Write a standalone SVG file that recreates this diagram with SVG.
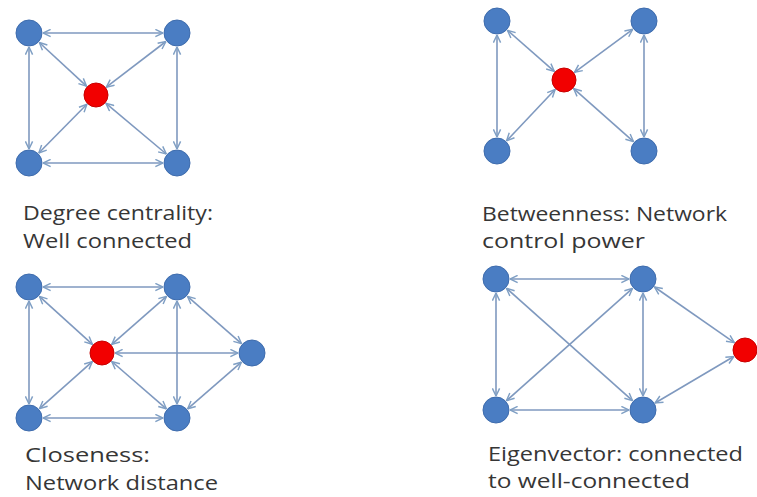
<svg xmlns="http://www.w3.org/2000/svg" width="757" height="497" viewBox="0 0 757 497">
  <style>
    .bg { fill: #ffffff; }
    .node { fill: #4a7dc3; stroke: #3e6cad; stroke-width: 1; }
    .hub { fill: #f20000; stroke: #c80000; stroke-width: 1; }
    .edge { stroke: #7f99bf; stroke-width: 1.6; fill: none; marker-start: url(#tip); marker-end: url(#tip); }
    .cap { font-family: "Open Sans", "Liberation Sans", sans-serif; font-size: 20px; fill: #363636; }
  </style>
  <defs>
    <marker id="tip" viewBox="0 0 10 10" refX="9.5" refY="5" markerWidth="9" markerHeight="9" markerUnits="userSpaceOnUse" orient="auto-start-reverse">
      <path d="M1,1 L9.5,5 L1,9" fill="none" stroke="#7f9fc4" stroke-width="1.6"/>
    </marker>
  </defs>
  <rect class="bg" width="757" height="497"/>

  <g id="connectors">
    <!-- degree centrality -->
    <line class="edge" x1="43" y1="33" x2="163" y2="33"/>
    <line class="edge" x1="29" y1="47" x2="29" y2="149"/>
    <line class="edge" x1="177" y1="47" x2="177" y2="149"/>
    <line class="edge" x1="43" y1="163" x2="163" y2="163"/>
    <line class="edge" x1="39.3" y1="42.5" x2="86.5" y2="86.2"/>
    <line class="edge" x1="165.9" y1="41.5" x2="106.3" y2="87.1"/>
    <line class="edge" x1="38.8" y1="153" x2="86.9" y2="104.3"/>
    <line class="edge" x1="166.3" y1="154" x2="106" y2="103.4"/>
    <!-- betweenness -->
    <line class="edge" x1="497" y1="35" x2="497" y2="137"/>
    <line class="edge" x1="644" y1="35" x2="644" y2="137"/>
    <line class="edge" x1="507.5" y1="30.3" x2="554.3" y2="71.4"/>
    <line class="edge" x1="632.7" y1="29.3" x2="574.5" y2="72.3"/>
    <line class="edge" x1="506.6" y1="140.8" x2="555.1" y2="89.5"/>
    <line class="edge" x1="633.5" y1="141.7" x2="573.7" y2="88.6"/>
    <!-- closeness -->
    <line class="edge" x1="43" y1="287" x2="163" y2="287"/>
    <line class="edge" x1="29" y1="301" x2="29" y2="404"/>
    <line class="edge" x1="43" y1="418" x2="163" y2="418"/>
    <line class="edge" x1="177" y1="301" x2="177" y2="404"/>
    <line class="edge" x1="115" y1="353" x2="238" y2="353"/>
    <line class="edge" x1="39.4" y1="296.4" x2="92.4" y2="344.3"/>
    <line class="edge" x1="166.5" y1="296.3" x2="111.8" y2="344.4"/>
    <line class="edge" x1="39.5" y1="408.7" x2="92.3" y2="361.6"/>
    <line class="edge" x1="166.4" y1="408.8" x2="111.8" y2="361.5"/>
    <line class="edge" x1="187.5" y1="296.3" x2="241.5" y2="343.7"/>
    <line class="edge" x1="187.6" y1="408.8" x2="241.4" y2="362.2"/>
    <!-- eigenvector -->
    <line class="edge" x1="510" y1="279" x2="629" y2="279"/>
    <line class="edge" x1="496" y1="293" x2="496" y2="396"/>
    <line class="edge" x1="643" y1="293" x2="643" y2="396"/>
    <line class="edge" x1="510" y1="410" x2="629" y2="410"/>
    <line class="edge" x1="506.5" y1="288.3" x2="632.5" y2="400.7"/>
    <line class="edge" x1="632.5" y1="288.3" x2="506.5" y2="400.7"/>
    <line class="edge" x1="654.5" y1="287" x2="734.3" y2="342.6"/>
    <line class="edge" x1="655.1" y1="403" x2="733.8" y2="356.5"/>
  </g>

  <!-- degree centrality -->
  <g id="deg-tl"><circle class="node" cx="29" cy="33" r="13"/></g>
  <g id="deg-tr"><circle class="node" cx="177" cy="33" r="13"/></g>
  <g id="deg-c"><circle class="hub" cx="96" cy="95" r="12"/></g>
  <g id="deg-bl"><circle class="node" cx="29" cy="163" r="13"/></g>
  <g id="deg-br"><circle class="node" cx="177" cy="163" r="13"/></g>

  <!-- betweenness -->
  <g id="bet-tl"><circle class="node" cx="497" cy="21" r="13"/></g>
  <g id="bet-tr"><circle class="node" cx="644" cy="21" r="13"/></g>
  <g id="bet-c"><circle class="hub" cx="564" cy="80" r="12"/></g>
  <g id="bet-bl"><circle class="node" cx="497" cy="151" r="13"/></g>
  <g id="bet-br"><circle class="node" cx="644" cy="151" r="13"/></g>

  <!-- closeness -->
  <g id="clo-tl"><circle class="node" cx="29" cy="287" r="13"/></g>
  <g id="clo-tr"><circle class="node" cx="177" cy="287" r="13"/></g>
  <g id="clo-c"><circle class="hub" cx="102" cy="353" r="12"/></g>
  <g id="clo-r"><circle class="node" cx="252" cy="353" r="13"/></g>
  <g id="clo-bl"><circle class="node" cx="29" cy="418" r="13"/></g>
  <g id="clo-br"><circle class="node" cx="177" cy="418" r="13"/></g>

  <!-- eigenvector -->
  <g id="eig-tl"><circle class="node" cx="496" cy="279" r="13"/></g>
  <g id="eig-tr"><circle class="node" cx="643" cy="279" r="13"/></g>
  <g id="eig-r"><circle class="hub" cx="745" cy="350" r="12"/></g>
  <g id="eig-bl"><circle class="node" cx="496" cy="410" r="13"/></g>
  <g id="eig-br"><circle class="node" cx="643" cy="410" r="13"/></g>

  <g id="captions">
    <text class="cap" x="23" y="220" textLength="190" lengthAdjust="spacingAndGlyphs">Degree centrality:</text>
    <text class="cap" x="23" y="248" textLength="169" lengthAdjust="spacingAndGlyphs">Well connected</text>
    <text class="cap" x="482" y="221" textLength="245" lengthAdjust="spacingAndGlyphs">Betweenness: Network</text>
    <text class="cap" x="482" y="248" textLength="163" lengthAdjust="spacingAndGlyphs">control power</text>
    <text class="cap" x="25" y="462" textLength="125" lengthAdjust="spacingAndGlyphs">Closeness:</text>
    <text class="cap" x="25" y="490" textLength="193" lengthAdjust="spacingAndGlyphs">Network distance</text>
    <text class="cap" x="488" y="461" textLength="255" lengthAdjust="spacingAndGlyphs">Eigenvector: connected</text>
    <text class="cap" x="488" y="488" textLength="202" lengthAdjust="spacingAndGlyphs">to well-connected</text>
  </g>
</svg>
